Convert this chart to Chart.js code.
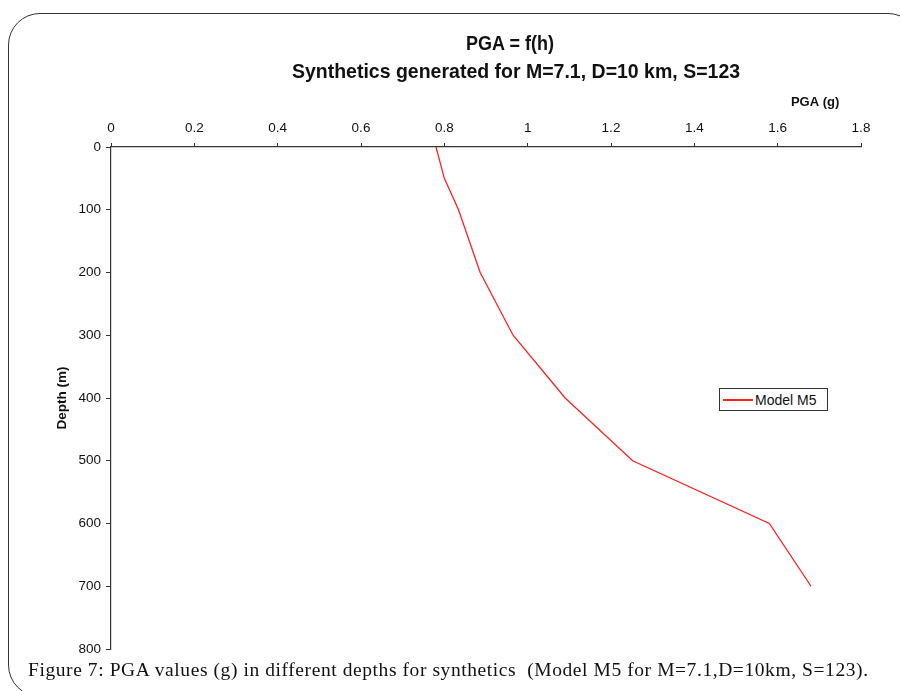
<!DOCTYPE html>
<html>
<head>
<meta charset="utf-8">
<title>PGA = f(h)</title>
<script src="https://cdn.jsdelivr.net/npm/chart.js@4.4.1/dist/chart.umd.min.js"></script>
<style>
  html, body { margin: 0; padding: 0; background: #fff; overflow: hidden; }
  #page { position: relative; width: 900px; height: 691px; overflow: hidden; }
  #frame {
    position: absolute; left: 8px; top: 13px; width: 912px; height: 684px;
    border: 1.5px solid #333; border-radius: 32px; box-sizing: border-box;
  }
  #chart { position: absolute; left: 0; top: 0; }
  .title {
    position: absolute; font-family: "Liberation Sans", Arial, sans-serif;
    font-weight: bold; color: #111; white-space: nowrap;
  }
  #legend {
    position: absolute; left: 719px; top: 388px; width: 109px; height: 23px;
    border: 1.5px solid #333; box-sizing: border-box; background: #fff;
    font: 14px "Liberation Sans", Arial, sans-serif; color: #111;
    display: flex; align-items: center; white-space: nowrap;
  }
  #legend .swatch { display: inline-block; width: 30px; height: 2px; background: #ff2020; margin: 0 2px 0 3px; }
  #caption {
    position: absolute; left: 28px; top: 659px; letter-spacing: 0.58px;
    font: 19.5px "Liberation Serif", "DejaVu Serif", serif; color: #111; white-space: nowrap;
  }
</style>
</head>
<body>
<div id="page">
  <div id="frame"></div>
  <canvas id="chart" width="900" height="691"></canvas>
  <div class="title" style="left:510px; top:33px; font-size:18px; transform:translateX(-50%) scaleY(1.1);">PGA = f(h)</div>
  <div class="title" style="left:516px; top:60px; font-size:19.5px; transform:translateX(-50%) scaleY(1.05);">Synthetics generated for M=7.1, D=10 km, S=123</div>
  <div id="legend"><span class="swatch"></span><span>Model M5</span></div>
  <div id="caption">Figure 7: PGA values (g) in different depths for synthetics&nbsp; (Model M5 for M=7.1,D=10km, S=123).</div>
</div>

<script>
  "use strict";

  // Data
  var depths = [0, 50, 100, 200, 300, 400, 500, 600, 700];
  var pgaM5 = [0.78, 0.8, 0.834, 0.886, 0.965, 1.09, 1.252, 1.58, 1.68];
  var pgaTicks = [0, 0.2, 0.4, 0.6, 0.8, 1, 1.2, 1.4, 1.6, 1.8];
  var depthTicks = [0, 100, 200, 300, 400, 500, 600, 700, 800];

  var points = depths.map(function (d, i) {
    return { x: pgaM5[i], y: d };
  });

  var fontFamily = "'Liberation Sans', Arial, sans-serif";
  var tickFont = { family: fontFamily, size: 13.5 };
  var axisColor = "#333";

  var ctx = document.getElementById("chart").getContext("2d");
  var myChart = new Chart(ctx, {
    type: "scatter",
    data: {
      datasets: [
        {
          label: "Model M5",
          data: points,
          showLine: true,
          borderColor: "#ff2020",
          backgroundColor: "#ff2020",
          borderWidth: 1.3,
          pointRadius: 0,
          tension: 0,
        },
      ],
    },
    options: {
      responsive: false,
      animation: false,
      layout: { padding: { left: 50, right: 39, top: 95, bottom: 42 } },
      plugins: {
        legend: { display: false },
        title: { display: false },
        tooltip: { enabled: false },
      },
      scales: {
        x: {
          type: "linear",
          position: "top",
          min: 0,
          max: 1.8,
          afterBuildTicks: function (scale) {
            scale.ticks = pgaTicks.map(function (v) { return { value: v }; });
          },
          afterFit: function (scale) {
            scale.height = 52;
          },
          ticks: {
            font: tickFont,
            color: "#111",
            padding: 7,
            callback: function (v) { return String(Math.round(v * 10) / 10); },
          },
          grid: { drawOnChartArea: false, drawTicks: true, tickLength: 4, color: axisColor },
          border: { display: true, color: axisColor, width: 1.2 },
          title: {
            display: true,
            // trailing spaces pull the right-aligned label in from the axis end
            text: "PGA (g)      ",
            align: "end",
            color: "#111",
            font: { family: fontFamily, size: 13, weight: "bold" },
            padding: { top: 0, bottom: 2 },
          },
        },
        y: {
          type: "linear",
          reverse: true,
          min: 0,
          max: 800,
          afterBuildTicks: function (scale) {
            scale.ticks = depthTicks.map(function (v) { return { value: v }; });
          },
          afterFit: function (scale) {
            scale.width = 61;
          },
          ticks: { font: tickFont, color: "#111", padding: 5 },
          grid: { drawOnChartArea: false, drawTicks: true, tickLength: 5, color: axisColor },
          border: { display: true, color: axisColor, width: 1.2 },
          title: {
            display: true,
            text: "Depth (m)",
            color: "#111",
            font: { family: fontFamily, size: 13.5, weight: "bold" },
            padding: { top: 4, bottom: 2 },
          },
        },
      },
    },
  });
</script>
</body>
</html>
